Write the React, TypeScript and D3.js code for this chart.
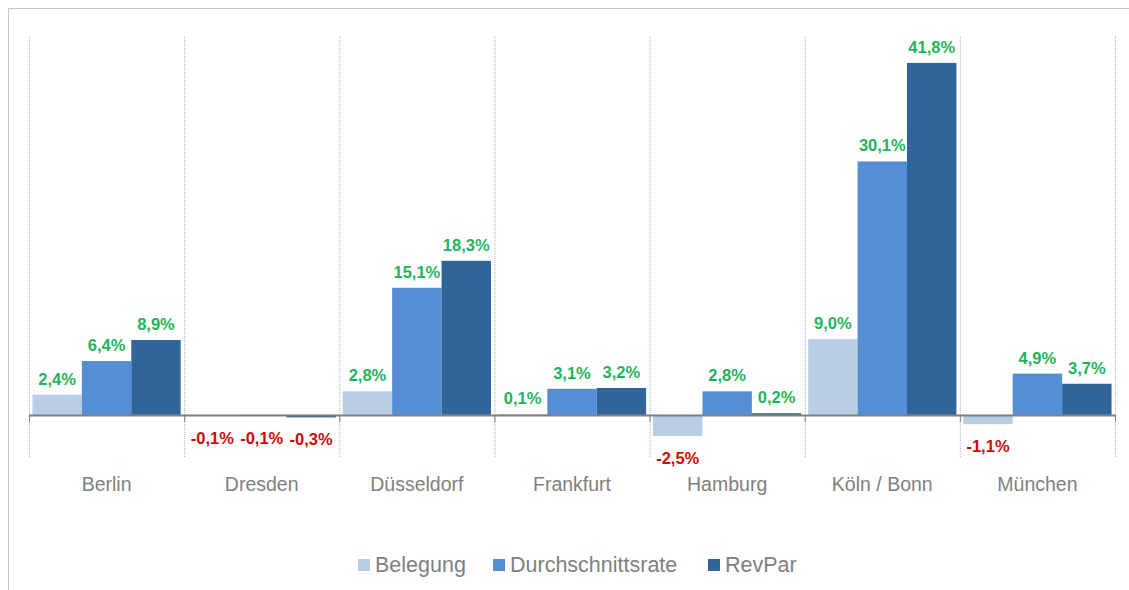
import React from 'react';
import * as d3 from 'd3';

const cities = ['Berlin', 'Dresden', 'Düsseldorf', 'Frankfurt', 'Hamburg', 'Köln / Bonn', 'München'];
const seriesNames = ['Belegung', 'Durchschnittsrate', 'RevPar'];
const belegung = [2.4, -0.1, 2.8, 0.1, -2.5, 9.0, -1.1];
const durchschnittsrate = [6.4, -0.1, 15.1, 3.1, 2.8, 30.1, 4.9];
const revpar = [8.9, -0.3, 18.3, 3.2, 0.2, 41.8, 3.7];
const colors = ['#b9cde5', '#558ed5', '#31659a'];

const W = 1129;
const H = 590;
const font = '"Liberation Sans", Arial, Helvetica, sans-serif';

const fmt = (v: number) => d3.format('.1f')(v).replace('.', ',').replace('−', '-') + '%';

const App = () => {
    const x = d3.scaleBand().domain(cities).range([29, 1115]).padding(0);
    const xi = d3.scaleBand().domain(seriesNames).range([0, x.bandwidth()]).paddingInner(0).paddingOuter(0.07);
    const y = d3.scaleLinear().domain([-5, 45]).range([457, 36]);

    const rows = [belegung, durchschnittsrate, revpar];
    const bounds = [...cities.map(c => x(c) as number), 1115];

    // legend layout
    const legendX = [358, 493, 708];

    return (
        <svg width={W} height={H} style={{ position: 'absolute', left: 0, top: 0 }}>
            <rect x={0} y={0} width={W} height={H} fill="#fff" />
            <path d={`M8.5,${H} V8.5 H${W}`} fill="none" stroke="#c6c6c6" strokeWidth={1} />

            {bounds.map((b, i) => (
                <line key={'g' + i} x1={b + 0.5} x2={b + 0.5} y1={y(45)} y2={y(-5)}
                    stroke="#b0b0b0" strokeWidth={1} strokeDasharray="1,1" />
            ))}

            {rows.map((vals, s) => vals.map((v, i) => {
                const bx = (x(cities[i]) as number) + (xi(seriesNames[s]) as number);
                const top = y(Math.max(0, v));
                const h = Math.abs(y(v) - y(0));
                return <rect key={`b${s}-${i}`} x={bx} y={top} width={xi.bandwidth()} height={Math.max(h, 1)} fill={colors[s]} />;
            }))}

            <line x1={29} x2={1115} y1={y(0) + 0.5} y2={y(0) + 0.5} stroke="#7f7f7f" strokeWidth={2} />
            {bounds.map((b, i) => (
                <line key={'t' + i} x1={b + 0.5} x2={b + 0.5} y1={y(0)} y2={y(0) + 7} stroke="#7f7f7f" strokeWidth={1} />
            ))}

            {rows.map((vals, s) => vals.map((v, i) => {
                const cx = (x(cities[i]) as number) + (xi(seriesNames[s]) as number) + xi.bandwidth() / 2;
                const neg = v < 0;
                const ty = neg ? y(v) + 28 : y(v) - 10;
                return (
                    <text key={`l${s}-${i}`} x={cx} y={ty} textAnchor="middle" fontFamily={font}
                        fontSize={16.5} fontWeight="bold" fill={neg ? '#cc0a0a' : '#1fb45c'}>{fmt(v)}</text>
                );
            }))}

            {cities.map(c => (
                <text key={c} x={(x(c) as number) + x.bandwidth() / 2} y={491} textAnchor="middle"
                    fontFamily={font} fontSize={19.5} fill="#7f7f7f">{c}</text>
            ))}

            {seriesNames.map((n, s) => (
                <g key={n}>
                    <rect x={legendX[s]} y={559} width={12} height={12} fill={colors[s]} />
                    <text x={legendX[s] + 17} y={572} fontFamily={font} fontSize={21.5} fill="#7f7f7f">{n}</text>
                </g>
            ))}
        </svg>
    );
};

export default App;
